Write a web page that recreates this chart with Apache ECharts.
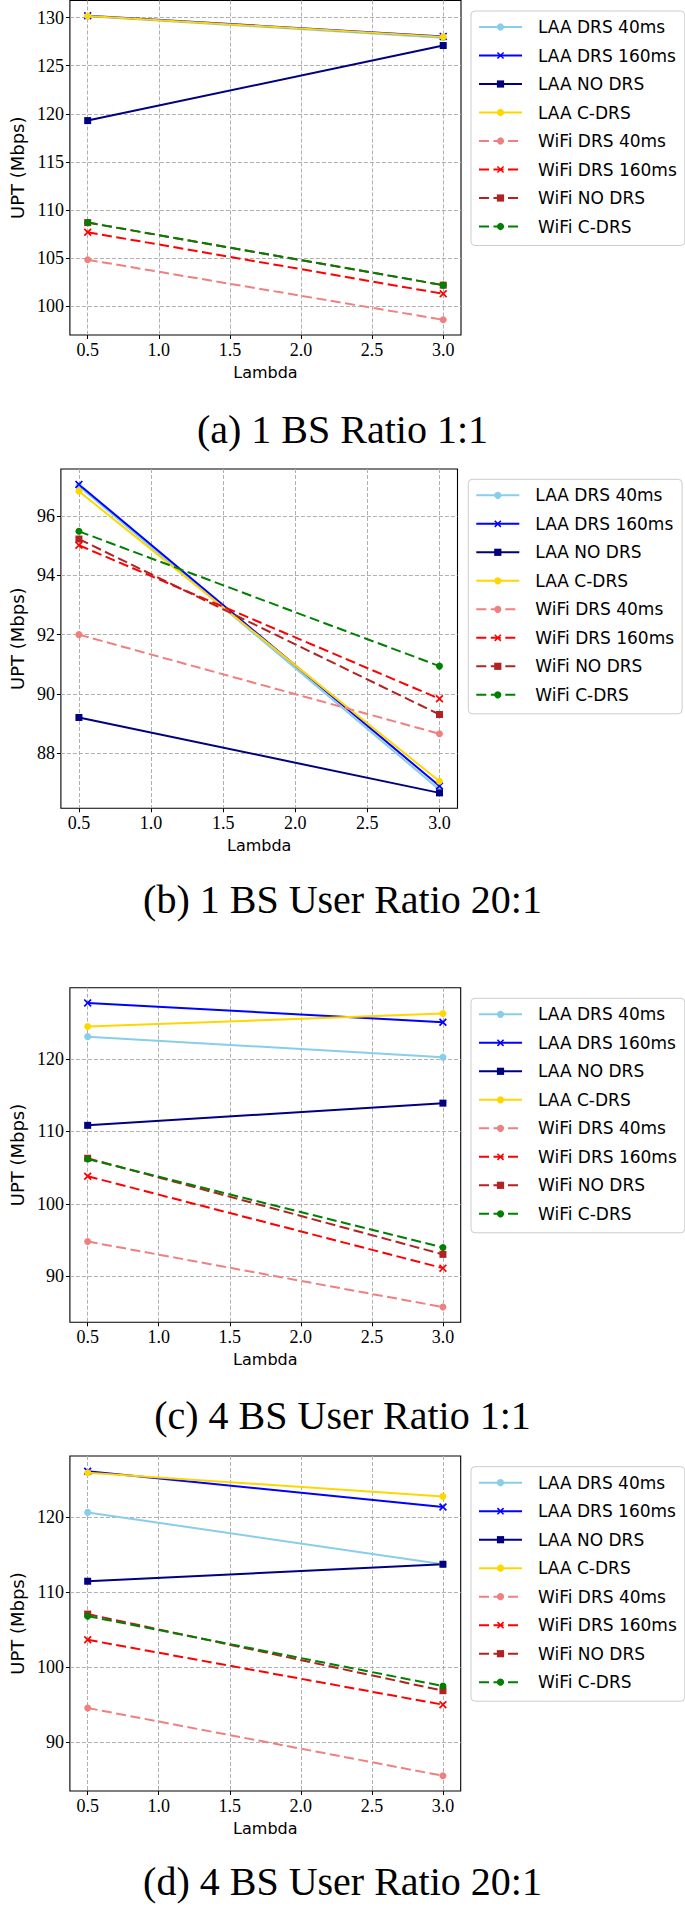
<!DOCTYPE html>
<html>
<head>
<meta charset="utf-8">
<script src="https://cdn.jsdelivr.net/npm/echarts@6/dist/echarts.min.js"></script>
<style>
html,body{margin:0;padding:0;background:#fff;}
#chart{width:685px;height:1907px;}
</style>
</head>
<body>
<div id="chart"></div>
<script>
// ---------- data ----------
const lambdas = [0.5, 3.0];
const seriesNames = ['LAA DRS 40ms', 'LAA DRS 160ms', 'LAA NO DRS', 'LAA C-DRS',
                     'WiFi DRS 40ms', 'WiFi DRS 160ms', 'WiFi NO DRS', 'WiFi C-DRS'];
const captions = ['(a) 1 BS Ratio 1:1', '(b) 1 BS User Ratio 20:1',
                  '(c) 4 BS User Ratio 1:1', '(d) 4 BS User Ratio 20:1'];
const xTicks = [0.5, 1.0, 1.5, 2.0, 2.5, 3.0];
const yTicksA = [100, 105, 110, 115, 120, 125, 130];
const yTicksB = [88, 90, 92, 94, 96];
const yTicksC = [90, 100, 110, 120];
const yTicksD = [90, 100, 110, 120];
const xAxisTitle = 'Lambda';
const yAxisTitle = 'UPT (Mbps)';

// (a) 1 BS Ratio 1:1
const aLaaDrs40   = [130.15, 127.9];
const aLaaDrs160  = [130.2, 128.05];
const aLaaNoDrs   = [119.3, 127.1];
const aLaaCDrs    = [130.17, 128.0];
const aWifiDrs40  = [104.84, 98.6];
const aWifiDrs160 = [107.7, 101.3];
const aWifiNoDrs  = [108.7, 102.2];
const aWifiCDrs   = [108.7, 102.2];

// (b) 1 BS User Ratio 20:1
const bLaaDrs40   = [97.0, 86.78];
const bLaaDrs160  = [97.06, 86.9];
const bLaaNoDrs   = [89.21, 86.67];
const bLaaCDrs    = [96.83, 87.06];
const bWifiDrs40  = [92.0, 88.66];
const bWifiDrs160 = [95.01, 89.84];
const bWifiNoDrs  = [95.22, 89.31];
const bWifiCDrs   = [95.48, 90.94];

// (c) 4 BS User Ratio 1:1
const cLaaDrs40   = [123.07, 120.23];
const cLaaDrs160  = [127.72, 125.06];
const cLaaNoDrs   = [110.84, 113.9];
const cLaaCDrs    = [124.46, 126.25];
const cWifiDrs40  = [94.82, 85.78];
const cWifiDrs160 = [103.82, 91.15];
const cWifiNoDrs  = [106.3, 93.05];
const cWifiCDrs   = [106.2, 94.0];

// (d) 4 BS User Ratio 20:1
const dLaaDrs40   = [120.62, 113.71];
const dLaaDrs160  = [126.1, 121.33];
const dLaaNoDrs   = [111.46, 113.72];
const dLaaCDrs    = [125.9, 122.75];
const dWifiDrs40  = [94.59, 85.57];
const dWifiDrs160 = [103.67, 95.03];
const dWifiNoDrs  = [107.09, 96.89];
const dWifiCDrs   = [106.82, 97.51];

const panelValues = [
  [aLaaDrs40, aLaaDrs160, aLaaNoDrs, aLaaCDrs, aWifiDrs40, aWifiDrs160, aWifiNoDrs, aWifiCDrs],
  [bLaaDrs40, bLaaDrs160, bLaaNoDrs, bLaaCDrs, bWifiDrs40, bWifiDrs160, bWifiNoDrs, bWifiCDrs],
  [cLaaDrs40, cLaaDrs160, cLaaNoDrs, cLaaCDrs, cWifiDrs40, cWifiDrs160, cWifiNoDrs, cWifiCDrs],
  [dLaaDrs40, dLaaDrs160, dLaaNoDrs, dLaaCDrs, dWifiDrs40, dWifiDrs160, dWifiNoDrs, dWifiCDrs]
];
const panelYTicks = [yTicksA, yTicksB, yTicksC, yTicksD];

// ---------- styles / layout ----------
const X_SYMBOL = 'path://M0,1.5L1.5,0L5,3.5L8.5,0L10,1.5L6.5,5L10,8.5L8.5,10L5,6.5L1.5,10L0,8.5L3.5,5Z';
const seriesStyles = [
  {color: '#87CEEB', symbol: 'circle', size: 7, dashed: false},
  {color: '#0000FF', symbol: X_SYMBOL, size: 8, dashed: false},
  {color: '#000080', symbol: 'rect',   size: 7, dashed: false},
  {color: '#FFD700', symbol: 'circle', size: 7, dashed: false},
  {color: '#F08080', symbol: 'circle', size: 7, dashed: true},
  {color: '#FF0000', symbol: X_SYMBOL, size: 8, dashed: true},
  {color: '#B22222', symbol: 'rect',   size: 7, dashed: true},
  {color: '#008000', symbol: 'circle', size: 7, dashed: true}
];
const gridRects = [
  {left: 59.3, top: 0.5,   width: 401.7, height: 334.5},
  {left: 51.7, top: 469,   width: 405.8, height: 339.3},
  {left: 59.3, top: 987.7, width: 401.4, height: 334.6},
  {left: 59.3, top: 1456,  width: 401.4, height: 335}
];
const legendPos = [
  {left: 471, top: 11},
  {left: 468.3, top: 479.3},
  {left: 471, top: 998.3},
  {left: 471, top: 1466.7}
];
const yNameGaps = [39, 32, 39, 39];
const captionY = [429, 899, 1415, 1881];

const DASH = [10, 4.5];
const GRIDLINE = {show: true, lineStyle: {color: '#b0b0b0', width: 1, type: [4, 2]}};

function padRange(arr) {
  const mn = Math.min(...arr), mx = Math.max(...arr);
  const m = (mx - mn) * 0.05;
  return [mn - m, mx + m];
}

const grids = [], xAxes = [], yAxes = [], series = [], legends = [], graphics = [];
const xr = padRange(lambdas);

for (let p = 0; p < 4; p++) {
  grids.push(Object.assign({show: true, borderColor: '#000', borderWidth: 1.1,
    backgroundColor: 'transparent', containLabel: false}, gridRects[p]));
  xAxes.push({
    type: 'value', gridIndex: p, min: xr[0], max: xr[1],
    axisLine: {show: false},
    axisTick: {show: true, inside: false, length: 4, customValues: xTicks,
               lineStyle: {color: '#000', width: 1}},
    axisLabel: {customValues: xTicks, margin: 6, color: '#000',
                fontFamily: 'Liberation Serif', fontSize: 18,
                formatter: v => Number(v).toFixed(1)},
    splitLine: GRIDLINE,
    name: xAxisTitle, nameLocation: 'middle', nameGap: 29,
    nameTextStyle: {fontFamily: 'DejaVu Sans', fontSize: 16, color: '#000'}
  });
  const allVals = [].concat(...panelValues[p]);
  const yr = padRange(allVals);
  yAxes.push({
    type: 'value', gridIndex: p, min: yr[0], max: yr[1],
    axisLine: {show: false},
    axisTick: {show: true, inside: false, length: 4, customValues: panelYTicks[p],
               lineStyle: {color: '#000', width: 1}},
    axisLabel: {customValues: panelYTicks[p], margin: 6, color: '#000',
                fontFamily: 'Liberation Serif', fontSize: 18},
    splitLine: GRIDLINE,
    name: yAxisTitle, nameLocation: 'middle', nameGap: yNameGaps[p],
    nameTextStyle: {fontFamily: 'DejaVu Sans', fontSize: 18, color: '#000'}
  });
  for (let s = 0; s < seriesNames.length; s++) {
    const st = seriesStyles[s];
    series.push({
      type: 'line', name: seriesNames[s], xAxisIndex: p, yAxisIndex: p,
      data: lambdas.map((x, i) => [x, panelValues[p][s][i]]),
      symbol: st.symbol, symbolSize: st.size, showSymbol: true,
      lineStyle: {color: st.color, width: 2, type: st.dashed ? DASH : 'solid'},
      itemStyle: {color: st.color, borderWidth: 0},
      emphasis: {disabled: true},
      animation: false
    });
  }
  legends.push({
    orient: 'vertical', left: legendPos[p].left, top: legendPos[p].top,
    data: seriesNames,
    itemWidth: 43, itemHeight: 9, itemGap: 8.5,
    padding: [6, 8, 9, 7],
    backgroundColor: '#fff', borderColor: '#cccccc', borderWidth: 1, borderRadius: 4,
    selectedMode: false,
    textStyle: {fontFamily: 'DejaVu Sans', fontSize: 17, color: '#000',
                lineHeight: 20, padding: [0, 0, 0, 11]}
  });
  graphics.push({
    type: 'text', x: 342.5, y: captionY[p],
    style: {text: captions[p], fill: '#000', font: '40px "Liberation Serif"',
            textAlign: 'center', textVerticalAlign: 'middle'}
  });
}

const chart = echarts.init(document.getElementById('chart'), null, {renderer: 'svg'});
chart.setOption({
  animation: false,
  backgroundColor: '#fff',
  grid: grids, xAxis: xAxes, yAxis: yAxes, series: series,
  legend: legends, graphic: graphics
});
</script>
</body>
</html>
